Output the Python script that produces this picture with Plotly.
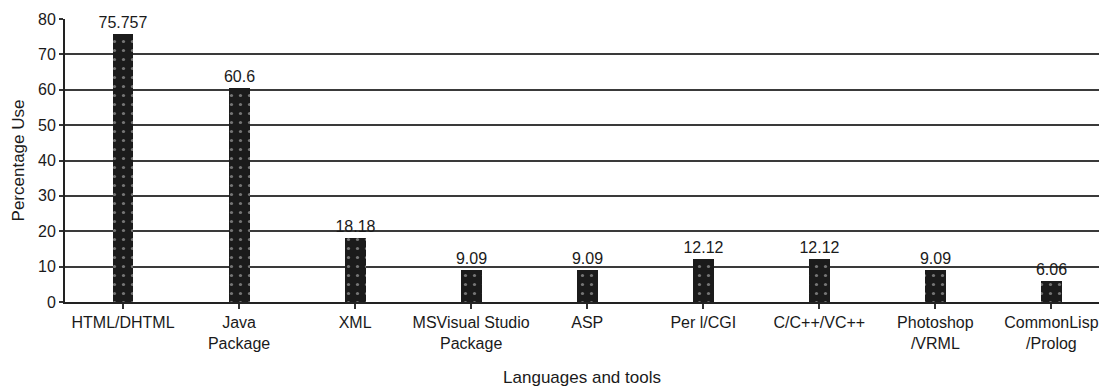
import plotly.graph_objects as go

categories = ["HTML/DHTML", "Java<br>Package", "XML", "MSVisual Studio<br>Package", "ASP",
              "Per l/CGI", "C/C++/VC++", "Photoshop<br>/VRML", "CommonLisp<br>/Prolog"]
values = [75.757, 60.6, 18.18, 9.09, 9.09, 12.12, 12.12, 9.09, 6.06]
value_labels = ["75.757", "60.6", "18.18", "9.09", "9.09", "12.12", "12.12", "9.09", "6.06"]
y_ticks = [0, 10, 20, 30, 40, 50, 60, 70, 80]

font_family = "Liberation Sans, Arial, sans-serif"
txt = "#1a1a1a"

fig = go.Figure()
fig.add_trace(go.Bar(
    x=list(range(len(categories))),
    y=values,
    width=0.18,
    text=value_labels,
    textposition="outside",
    constraintext="none",
    cliponaxis=False,
    textfont=dict(family=font_family, size=16, color=txt),
    marker=dict(
        color="#1b1b1b",
        line=dict(width=0),
        pattern=dict(shape=".", fgcolor="#d0d0d0", bgcolor="#1b1b1b", size=9, solidity=0.1),
    ),
))

fig.update_layout(
    width=1099, height=387,
    margin=dict(l=65, r=0, t=19, b=85),
    paper_bgcolor="white", plot_bgcolor="white",
    showlegend=False,
    font=dict(family=font_family, size=16, color=txt),
    bargap=0,
)
fig.update_xaxes(
    tickmode="array",
    tickvals=list(range(len(categories))),
    ticktext=categories,
    range=[-0.5, 8.41],
    showgrid=False,
    showline=True, linecolor="#222", linewidth=2,
    tickson="boundaries", ticks="outside", ticklen=5, tickwidth=2, tickcolor="#333",
    tickfont=dict(size=16, color=txt),
    title=dict(text="Languages and tools", font=dict(size=17, color=txt), standoff=21),
)
fig.update_yaxes(
    range=[0, 80],
    tickmode="array", tickvals=y_ticks,
    showgrid=True, gridcolor="#3a3a3a", gridwidth=2,
    showline=True, linecolor="#222", linewidth=2,
    ticks="outside", ticklen=4, tickwidth=2, tickcolor="#333",
    tickfont=dict(size=16, color=txt),
    zeroline=False,
    title=dict(text="Percentage Use", font=dict(size=17, color=txt), standoff=9),
)

fig.write_html("out.html")
